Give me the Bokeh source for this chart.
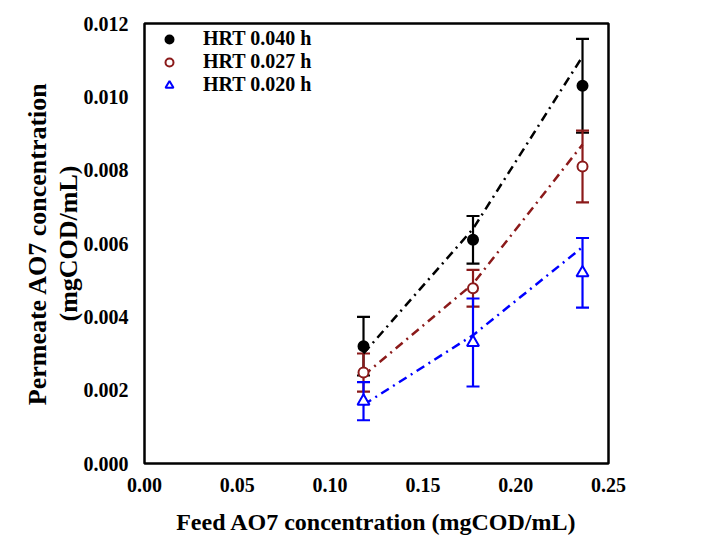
from bokeh.plotting import figure
from bokeh.models import ColumnDataSource, Whisker, TeeHead, Legend, LegendItem
from bokeh.embed import file_html
from bokeh.resources import INLINE

# Data
feed = [0.118, 0.177, 0.236]
hrt040 = [0.0032, 0.0061, 0.0103]
err040 = [0.0008, 0.00065, 0.00128]
hrt027 = [0.00248, 0.00478, 0.0081]
err027 = [0.00052, 0.0005, 0.00098]
hrt020 = [0.0017, 0.0033, 0.0052]
err020 = [0.00052, 0.0012, 0.00095]
model040 = [0.0030, 0.0064, 0.0111]
model027 = [0.0024, 0.0049, 0.0087]
model020 = [0.0016, 0.0035, 0.0059]
labels = ["HRT 0.040 h", "HRT 0.027 h", "HRT 0.020 h"]
x_ticks = [0.0, 0.05, 0.10, 0.15, 0.20, 0.25]
y_ticks = [0.0, 0.002, 0.004, 0.006, 0.008, 0.010, 0.012]

FONT = "Liberation Serif"

p = figure(frame_width=464, frame_height=440, x_range=(0, 0.25), y_range=(0, 0.012),
           min_border_left=144, min_border_top=23, min_border_right=95,
           output_backend="svg", toolbar_location=None)
p.grid.visible = False
p.outline_line_color = "black"
p.outline_line_width = 2.5
p.background_fill_color = "white"
p.border_fill_color = "white"

p.xaxis.ticker = x_ticks
p.yaxis.ticker = y_ticks
p.xaxis.major_label_overrides = {0.0: "0.00", 0.05: "0.05", 0.10: "0.10", 0.15: "0.15", 0.20: "0.20", 0.25: "0.25"}
p.yaxis.major_label_overrides = {0.0: "0.000", 0.002: "0.002", 0.004: "0.004", 0.006: "0.006",
                                 0.008: "0.008", 0.010: "0.010", 0.012: "0.012"}
for ax in (p.xaxis, p.yaxis):
    ax.axis_line_color = None
    ax.major_tick_line_color = None
    ax.minor_tick_line_color = None
    ax.major_label_text_font = FONT
    ax.major_label_text_font_style = "bold"
    ax.major_label_text_font_size = "20px"
    ax.major_label_text_color = "black"
    ax.axis_label_text_font = FONT
    ax.axis_label_text_font_style = "bold"
    ax.axis_label_text_color = "black"
p.xaxis.major_label_standoff = 8
p.yaxis.major_label_standoff = 10
p.xaxis.axis_label = "Feed AO7 concentration (mgCOD/mL)"
p.xaxis.axis_label_text_font_size = "24px"
p.xaxis.axis_label_standoff = 14
p.yaxis.axis_label = "Permeate AO7 concentration\n(mgCOD/mL)"
p.yaxis.axis_label_text_font_size = "26px"
p.yaxis.axis_label_text_line_height = 1.05
p.yaxis.axis_label_standoff = -2

series = [
    (hrt040, err040, model040, "black", "circle", "black", 10),
    (hrt027, err027, model027, "#8b1a1a", "circle", "white", 10),
    (hrt020, err020, model020, "#0000ff", "triangle", "white", 12),
]

items = []
for (vals, errs, model, col, mk, fill, sz), lab in zip(series, labels):
    src = ColumnDataSource(dict(
        x=feed, y=vals,
        upper=[v + e for v, e in zip(vals, errs)],
        lower=[v - e for v, e in zip(vals, errs)],
        m=model))
    p.line("x", "m", source=src, line_color=col, line_width=2.5, line_dash="9 5 2 5")
    w = Whisker(source=src, base="x", upper="upper", lower="lower", dimension="height",
                line_color=col, line_width=2.2,
                upper_head=TeeHead(size=13, line_color=col, line_width=2.2),
                lower_head=TeeHead(size=13, line_color=col, line_width=2.2))
    p.add_layout(w)
    r = p.scatter("x", "y", source=src, marker=mk, size=sz, line_color=col,
                  fill_color=fill, line_width=2)
    items.append(LegendItem(label=lab, renderers=[r]))

legend = Legend(items=items, location="top_left")
legend.border_line_color = None
legend.background_fill_alpha = 0
legend.margin = 4
legend.padding = 16
legend.glyph_width = 42
legend.glyph_height = 20
legend.label_standoff = 13
legend.spacing = 0
legend.label_text_font = FONT
legend.label_text_font_style = "bold"
legend.label_text_font_size = "20px"
legend.label_text_color = "black"
p.add_layout(legend)

open("out.html", "w").write(file_html(p, INLINE))
